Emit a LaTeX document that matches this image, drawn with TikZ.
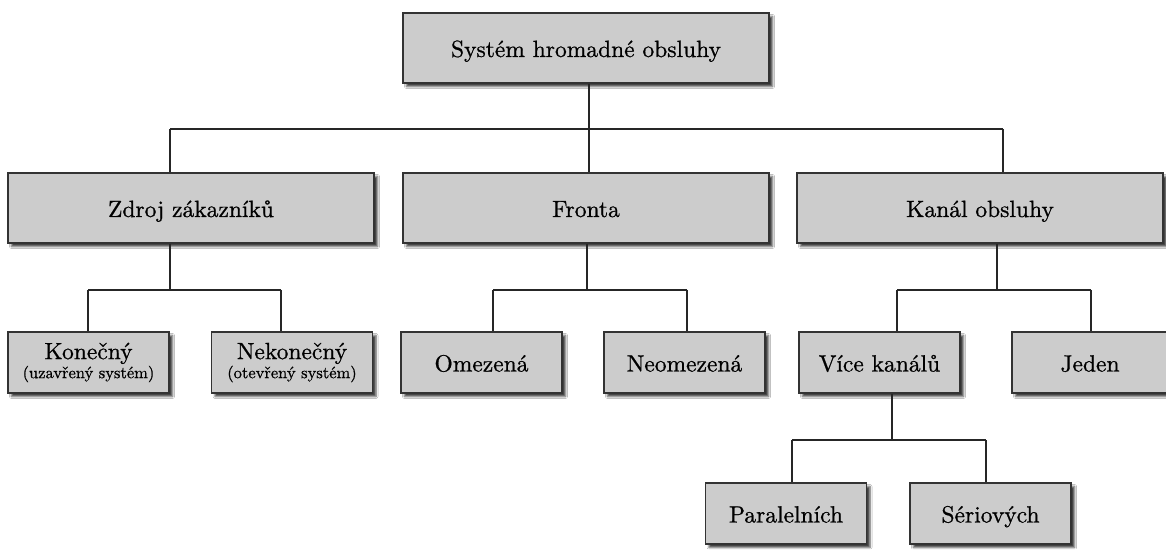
\documentclass[tikz,border=0pt]{standalone}
\usepackage{fontspec}
\usetikzlibrary{shadows.blur}
\newfontfamily\boxfont{lmroman10-regular}[Extension=.otf, RawFeature={embolden=0.8}]
\definecolor{boxgray}{HTML}{CCCCCC}
\definecolor{edgegray}{HTML}{333333}

\tikzset{
  box/.style={draw=edgegray, line width=1.3pt, fill=boxgray, inner sep=0pt,
    font=\boxfont\fontsize{23.5}{19}\selectfont,
    blur shadow={shadow xshift=3.5pt, shadow yshift=-3.5pt,
      shadow blur radius=2pt, shadow opacity=75}},
  oneline/.style={text height=20pt, text depth=2pt},
  bigbox/.style={box, oneline, minimum width=366pt, minimum height=70pt},
  leaf/.style={box, oneline, minimum width=161pt, minimum height=61pt},
  leaftwo/.style={box, align=center, minimum width=161pt, minimum height=61pt},
  link/.style={line width=1.2pt, draw=black!85}
}
\newcommand{\subtext}[1]{{\fontsize{16.5}{19}\selectfont #1}}

\begin{document}
\begin{tikzpicture}[x=1pt, y=1pt]
  \useasboundingbox (0,0) rectangle (1166,549);
  \clip (0,0) rectangle (1166,549);
  \fill[white] (0,0) rectangle (1166,549);

  % branch points of the tree
  \coordinate (b0)  at (589,420);
  \coordinate (b0l) at (170,420);
  \coordinate (b0r) at (1003,420);
  \coordinate (bz)  at (170,259);
  \coordinate (bzl) at (88,259);
  \coordinate (bzr) at (281,259);
  \coordinate (bf)  at (587,259);
  \coordinate (bfl) at (493,259);
  \coordinate (bfr) at (687,259);
  \coordinate (bk)  at (997,259);
  \coordinate (bkl) at (897,259);
  \coordinate (bkr) at (1091,259);
  \coordinate (bv)  at (892,109);
  \coordinate (bvl) at (792,109);
  \coordinate (bvr) at (986,109);

  % horizontal bars
  \draw[link] (b0l) -- (b0r);
  \draw[link] (bzl) -- (bzr);
  \draw[link] (bfl) -- (bfr);
  \draw[link] (bkl) -- (bkr);
  \draw[link] (bvl) -- (bvr);

  % root
  \node[bigbox] (root) at (586,501) {Systém hromadné obsluhy};

  % first level
  \node[bigbox] (zdroj)  at (191,341) {Zdroj zákazníků};
  \node[bigbox] (fronta) at (586,341) {Fronta};
  \node[bigbox] (kanal)  at (980,341) {Kanál obsluhy};

  % second level
  \node[leaftwo] (konecny)   at (88.5,186.5) {Konečný\\\subtext{(uzavřený systém)}};
  \node[leaftwo] (nekonecny) at (292,186.5)  {Nekonečný\\\subtext{(otevřený systém)}};
  \node[leaf] (omezena)   at (481.5,186.5) {Omezená};
  \node[leaf] (neomezena) at (684.5,186.5) {Neomezená};
  \node[leaf] (vice)      at (879.5,186.5) {Více kanálů};
  \node[leaf, minimum width=156pt] (jeden) at (1090,186.5) {Jeden};

  % third level
  \node[leaf] (paralelni) at (786,35.5)   {Paralelních};
  \node[leaf] (seriove)   at (990.5,35.5) {Sériových};

  % vertical stems and drops
  \draw[link] (root.south -| b0) -- (b0);
  \draw[link] (b0l) -- (b0l |- zdroj.north);
  \draw[link] (b0)  -- (b0 |- fronta.north);
  \draw[link] (b0r) -- (b0r |- kanal.north);

  \draw[link] (zdroj.south -| bz) -- (bz);
  \draw[link] (bzl) -- (bzl |- konecny.north);
  \draw[link] (bzr) -- (bzr |- nekonecny.north);

  \draw[link] (fronta.south -| bf) -- (bf);
  \draw[link] (bfl) -- (bfl |- omezena.north);
  \draw[link] (bfr) -- (bfr |- neomezena.north);

  \draw[link] (kanal.south -| bk) -- (bk);
  \draw[link] (bkl) -- (bkl |- vice.north);
  \draw[link] (bkr) -- (bkr |- jeden.north);

  \draw[link] (vice.south -| bv) -- (bv);
  \draw[link] (bvl) -- (bvl |- paralelni.north);
  \draw[link] (bvr) -- (bvr |- seriove.north);
\end{tikzpicture}
\end{document}
